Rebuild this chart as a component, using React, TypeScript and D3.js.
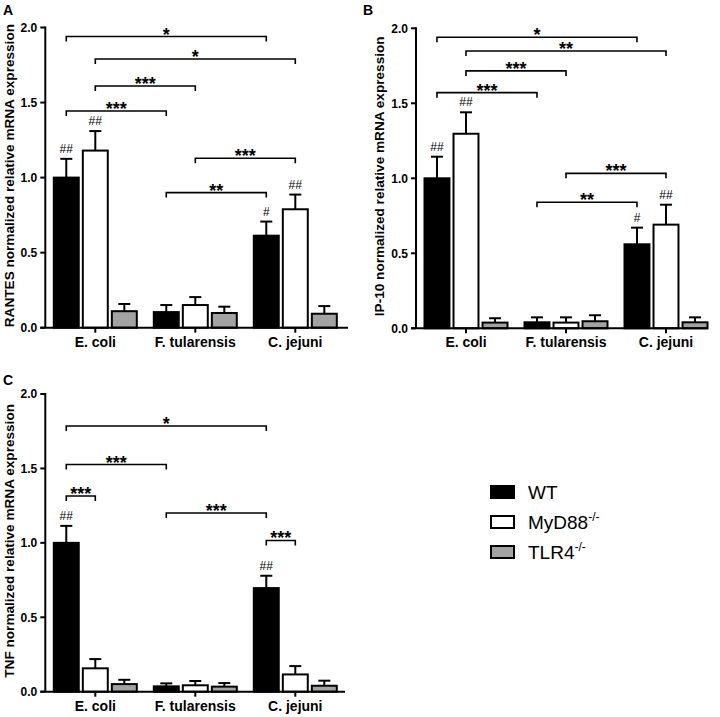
import { scaleBand, scaleLinear } from 'd3'

const categories = ['E. coli', 'F. tularensis', 'C. jejuni']
const genotypes = ['WT', 'MyD88', 'TLR4']
const yTicks = [0, 0.5, 1.0, 1.5, 2.0]

// means per category: [WT, MyD88-/-, TLR4-/-]
const rantesMeans = [
  [1.0, 1.18, 0.11],
  [0.104, 0.151, 0.098],
  [0.613, 0.789, 0.093],
]
const rantesSem = [
  [0.125, 0.13, 0.048],
  [0.047, 0.053, 0.042],
  [0.094, 0.098, 0.051],
]
const ip10Means = [
  [1.0, 1.297, 0.038],
  [0.04, 0.038, 0.047],
  [0.56, 0.691, 0.04],
]
const ip10Sem = [
  [0.144, 0.143, 0.029],
  [0.033, 0.035, 0.04],
  [0.111, 0.133, 0.033],
]
const tnfMeans = [
  [1.0, 0.157, 0.051],
  [0.036, 0.043, 0.034],
  [0.696, 0.116, 0.04],
]
const tnfSem = [
  [0.114, 0.062, 0.029],
  [0.02, 0.029, 0.024],
  [0.083, 0.056, 0.034],
]

// "#" marks: [category, genotype, label]
const rantesHash: [number, number, string][] = [
  [0, 0, '##'],
  [0, 1, '##'],
  [2, 0, '#'],
  [2, 1, '##'],
]
const ip10Hash: [number, number, string][] = [
  [0, 0, '##'],
  [0, 1, '##'],
  [2, 0, '#'],
  [2, 1, '##'],
]
const tnfHash: [number, number, string][] = [
  [0, 0, '##'],
  [2, 0, '##'],
]

// brackets: [fromCat, fromGeno, toCat, toGeno, height, label]
type Bracket = [number, number, number, number, number, string]
const rantesBrackets: Bracket[] = [
  [0, 0, 2, 0, 1.94, '*'],
  [0, 1, 2, 1, 1.79, '*'],
  [0, 1, 1, 1, 1.61, '***'],
  [0, 0, 1, 0, 1.444, '***'],
  [1, 1, 2, 1, 1.129, '***'],
  [1, 0, 2, 0, 0.9, '**'],
]
const ip10Brackets: Bracket[] = [
  [0, 0, 2, 0, 1.94, '*'],
  [0, 1, 2, 1, 1.849, '**'],
  [0, 1, 1, 1, 1.716, '***'],
  [0, 0, 1, 0, 1.571, '***'],
  [1, 1, 2, 1, 1.033, '***'],
  [1, 0, 2, 0, 0.84, '**'],
]
const tnfBrackets: Bracket[] = [
  [0, 0, 2, 0, 1.785, '*'],
  [0, 0, 1, 0, 1.526, '***'],
  [0, 0, 0, 1, 1.315, '***'],
  [1, 0, 2, 0, 1.201, '***'],
  [2, 0, 2, 1, 1.016, '***'],
]

const fills = ['#000000', '#ffffff', '#a3a3a3']
const font = "'Liberation Sans', Arial, sans-serif"

type PanelProps = {
  letter: string
  title: string
  means: number[][]
  sem: number[][]
  hashes: [number, number, string][]
  brackets: Bracket[]
  axisX: number
  yTop: number
  yBottom: number
  axisEnd: number
  letterX: number
  letterY: number
}

function Panel({
  letter,
  title,
  means,
  sem,
  hashes,
  brackets,
  axisX,
  yTop,
  yBottom,
  axisEnd,
  letterX,
  letterY,
}: PanelProps) {
  const xScale = scaleBand().domain(categories).range([axisX, axisX + 300])
  const innerScale = scaleBand().domain(genotypes).range([8.5, 91.5]).paddingInner(0.14)
  const yScale = scaleLinear().domain([0, 2]).range([yBottom, yTop])
  const barWidth = innerScale.bandwidth()
  const capHalf = 6

  const barCenter = (c: number, g: number) =>
    (xScale(categories[c]) ?? 0) + (innerScale(genotypes[g]) ?? 0) + barWidth / 2

  return (
    <g fontFamily={font}>
      <text x={letterX} y={letterY} fontSize={14} fontWeight="bold">
        {letter}
      </text>

      <text
        transform={`translate(${axisX - 31.8}, ${(yTop + yBottom) / 2 - 2}) rotate(-90)`}
        textAnchor="middle"
        fontSize={13.6}
        fontWeight="bold"
      >
        {title}
      </text>

      {yTicks.map((tick) => (
        <g key={tick}>
          <line x1={axisX - 5} x2={axisX} y1={yScale(tick)} y2={yScale(tick)} stroke="#000" strokeWidth={2} />
          <text
            x={axisX - 8}
            y={yScale(tick)}
            dy="0.36em"
            textAnchor="end"
            fontSize={12}
            fontWeight="bold"
          >
            {tick.toFixed(1)}
          </text>
        </g>
      ))}

      {categories.map((cat, c) =>
        genotypes.map((geno, g) => {
          const x = (xScale(cat) ?? 0) + (innerScale(geno) ?? 0)
          const yMean = yScale(means[c][g])
          const yErr = yScale(means[c][g] + sem[c][g])
          const cx = x + barWidth / 2
          return (
            <g key={`${cat}-${geno}`}>
              <line x1={cx} x2={cx} y1={yMean} y2={yErr} stroke="#000" strokeWidth={2} />
              <line x1={cx - capHalf} x2={cx + capHalf} y1={yErr} y2={yErr} stroke="#000" strokeWidth={2} />
              <rect
                x={x}
                y={yMean}
                width={barWidth}
                height={yBottom - yMean}
                fill={fills[g]}
                stroke="#000"
                strokeWidth={2}
              />
            </g>
          )
        }),
      )}

      {hashes.map(([c, g, label]) => (
        <text
          key={`hash-${c}-${g}`}
          x={barCenter(c, g)}
          y={yScale(means[c][g] + sem[c][g]) - 6}
          textAnchor="middle"
          fontSize={12}
        >
          {label}
        </text>
      ))}

      {brackets.map(([c1, g1, c2, g2, h, label]) => {
        const x1 = barCenter(c1, g1)
        const x2 = barCenter(c2, g2)
        const y = yScale(h)
        return (
          <g key={`br-${c1}-${g1}-${c2}-${g2}`}>
            <path
              d={`M${x1},${y + 5}V${y}H${x2}V${y + 5}`}
              fill="none"
              stroke="#000"
              strokeWidth={1.6}
            />
            <text x={(x1 + x2) / 2} y={y + 4} textAnchor="middle" fontSize={18} fontWeight="bold">
              {label}
            </text>
          </g>
        )
      })}

      <line x1={axisX} x2={axisX} y1={yTop - 1} y2={yBottom} stroke="#000" strokeWidth={2} />
      <line x1={axisX - 5} x2={axisEnd} y1={yBottom} y2={yBottom} stroke="#000" strokeWidth={2} />

      {categories.map((cat) => {
        const cx = (xScale(cat) ?? 0) + xScale.bandwidth() / 2
        return (
          <g key={`cat-${cat}`}>
            <line x1={cx} x2={cx} y1={yBottom} y2={yBottom + 5} stroke="#000" strokeWidth={2} />
            <text x={cx} y={yBottom + 19} textAnchor="middle" fontSize={14} fontWeight="bold">
              {cat}
            </text>
          </g>
        )
      })}
    </g>
  )
}

function Legend() {
  const labels = [
    { name: 'WT', sup: '' },
    { name: 'MyD88', sup: '-/-' },
    { name: 'TLR4', sup: '-/-' },
  ]
  return (
    <g fontFamily={font}>
      {labels.map((item, i) => {
        const y = 486 + i * 30
        return (
          <g key={item.name}>
            <rect x={491} y={y} width={23} height={12} fill={fills[i]} stroke="#000" strokeWidth={2} />
            <text x={528} y={y + 12.5} fontSize={19}>
              {item.name}
              {item.sup && (
                <tspan fontSize={12} dy={-8}>
                  {item.sup}
                </tspan>
              )}
            </text>
          </g>
        )
      })}
    </g>
  )
}

export default function App() {
  return (
    <svg
      width={720}
      height={717}
      viewBox="0 0 720 717"
      style={{ position: 'absolute', left: 0, top: 0, background: '#fff' }}
    >
      <Panel
        letter="A"
        title="RANTES normalized relative mRNA expression"
        means={rantesMeans}
        sem={rantesSem}
        hashes={rantesHash}
        brackets={rantesBrackets}
        axisX={45.3}
        yTop={27.5}
        yBottom={327.7}
        axisEnd={348}
        letterX={3}
        letterY={15}
      />
      <Panel
        letter="B"
        title="IP-10 normalized relative mRNA expression"
        means={ip10Means}
        sem={ip10Sem}
        hashes={ip10Hash}
        brackets={ip10Brackets}
        axisX={416}
        yTop={28.3}
        yBottom={328.3}
        axisEnd={708}
        letterX={363}
        letterY={15}
      />
      <Panel
        letter="C"
        title="TNF normalized relative mRNA expression"
        means={tnfMeans}
        sem={tnfSem}
        hashes={tnfHash}
        brackets={tnfBrackets}
        axisX={45.3}
        yTop={394}
        yBottom={691.7}
        axisEnd={345}
        letterX={3}
        letterY={385}
      />
      <Legend />
    </svg>
  )
}
